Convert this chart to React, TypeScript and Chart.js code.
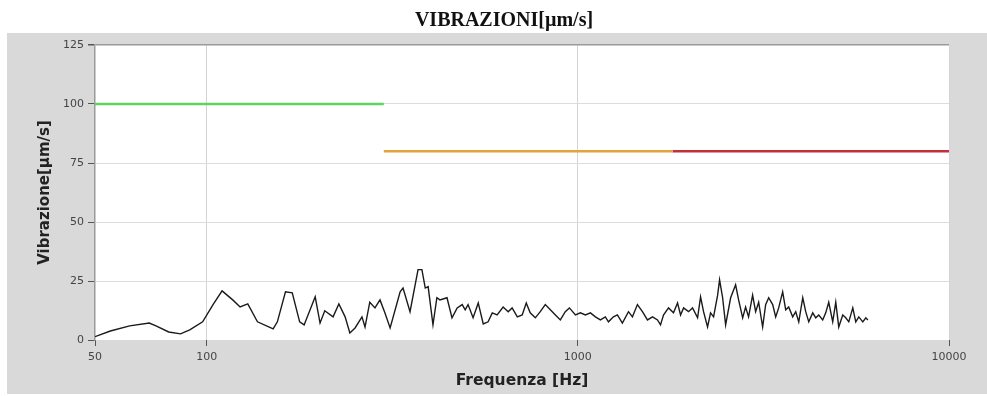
import React, { useEffect, useRef } from "react";
import { Chart, registerables } from "chart.js";

Chart.register(...registerables);

const TITLE = "VIBRAZIONI[µm/s]";
const X_TITLE = "Frequenza [Hz]";
const Y_TITLE = "Vibrazione[µm/s]";

const xTicks = [50, 100, 1000, 10000];
const yTicks = [0, 25, 50, 75, 100, 125];

// Limit lines: green 50-300 at 100, orange 300-1800 at 80, red 1800-10000 at 80
const limitFreqs = [50, 300, 1800, 10000];
const limitValues = [100, 80, 80];
const limitColors = ["#5fd35f", "#e2a43c", "#c2303c"];

// Measured spectrum
const freqs = [
  50, 55, 62, 70, 73, 79, 85, 90, 97.5, 104, 110, 117.5, 123, 129, 137, 151, 155, 163, 170, 178,
  183, 196, 202, 208, 219, 227, 236, 243, 251, 262, 267, 275, 284, 293, 302, 312, 332, 338, 353, 371,
  380, 388, 395, 407, 417, 425, 444, 458, 473, 488, 497, 506, 522, 539, 556, 573, 588, 606, 629, 649,
  665, 687, 708, 726, 744, 768, 792, 817, 843, 870, 897, 925, 949, 985, 1016, 1048, 1081, 1115, 1150, 1186,
  1209, 1247, 1278, 1318, 1369, 1403, 1447, 1493, 1540, 1589, 1639, 1670, 1701, 1755, 1810, 1856, 1891, 1927, 1987, 2037,
  2102, 2141, 2181, 2236, 2278, 2321, 2380, 2409, 2455, 2501, 2580, 2661, 2711, 2780, 2831, 2884, 2957, 3013, 3070, 3147,
  3206, 3267, 3349, 3412, 3476, 3563, 3631, 3699, 3792, 3864, 3937, 4036, 4111, 4189, 4294, 4375, 4457, 4568, 4654, 4742,
  4861, 4953, 5046, 5173, 5270, 5370, 5505, 5608, 5714, 5858, 5968, 6045,
];
const vibration = [
  1.4, 3.8, 6, 7.2, 6, 3.4, 2.6, 4.3, 7.7, 15, 20.8, 17, 14, 15.3, 7.7, 4.7, 7.7, 20.4, 20, 7.7,
  6.4, 18.3, 7.2, 12.4, 9.8, 15.3, 9.8, 3, 5.1, 9.8, 5.5, 16, 13.6, 17, 11.5, 5.1, 20.4, 22, 12, 29.8,
  29.8, 22, 22.6, 6.4, 17.9, 17, 17.9, 9.4, 13.6, 15, 12.8, 15, 9.4, 15.7, 6.8, 7.7, 11.5, 10.6, 14, 12,
  13.6, 9.8, 10.6, 15.7, 11.5, 9.4, 12, 15, 12.8, 10.6, 8.5, 12, 13.6, 10.6, 11.5, 10.6, 11.5, 9.8, 8.5, 9.8,
  7.7, 9.8, 10.6, 7.2, 12, 9.8, 15, 12, 8.5, 9.8, 8.5, 6.4, 10.6, 13.6, 11.5, 15.7, 10.6, 13.6, 12, 13.6,
  9.4, 18.3, 12, 5.5, 11.5, 9.8, 19, 25.5, 17.9, 6.4, 17.9, 23.4, 17, 9.4, 14, 9.8, 19, 12, 16, 5.5,
  15, 17.9, 15, 9.8, 13.6, 20.4, 12.8, 14, 9.8, 12, 7.7, 17.9, 12, 7.7, 11.5, 9.4, 10.6, 8.5, 11.5, 16,
  7.7, 16, 5.5, 10.6, 9.4, 7.7, 13.6, 7.7, 9.8, 7.7, 9.4, 8.5,
];

const FONT = "'DejaVu Sans', Verdana, sans-serif";

const panelPlugin = {
  id: "panel",
  beforeDraw(chart: any) {
    const { ctx, chartArea } = chart;
    ctx.save();
    ctx.fillStyle = "#ffffff";
    ctx.fillRect(0, 0, chart.width, chart.height);
    ctx.fillStyle = "#d9d9d9";
    ctx.fillRect(7, 33, chart.width - 7, 361);
    ctx.fillStyle = "#ffffff";
    ctx.fillRect(chartArea.left, chartArea.top, chartArea.right - chartArea.left, chartArea.bottom - chartArea.top);
    ctx.restore();
  },
  afterDraw(chart: any) {
    const { ctx } = chart;
    ctx.save();
    ctx.fillStyle = "#111111";
    ctx.font = "bold 20px 'Liberation Serif', 'Times New Roman', serif";
    ctx.textAlign = "center";
    ctx.textBaseline = "middle";
    ctx.fillText(TITLE, 504, 21);
    ctx.restore();
  },
};

export default function App() {
  const ref = useRef<HTMLCanvasElement>(null);

  useEffect(() => {
    const canvas = ref.current;
    if (!canvas) return;

    const limitSets = limitValues.map((v, i) => ({
      data: [
        { x: limitFreqs[i], y: v },
        { x: limitFreqs[i + 1], y: v },
      ],
      borderColor: limitColors[i],
      borderWidth: 2.6,
      pointRadius: 0,
      tension: 0,
    }));

    const chart = new Chart(canvas, {
      type: "line",
      data: {
        datasets: [
          ...limitSets,
          {
            data: freqs.map((f, i) => ({ x: f, y: vibration[i] })),
            borderColor: "#1a1a1a",
            borderWidth: 1.4,
            pointRadius: 0,
            tension: 0,
          },
        ],
      },
      options: {
        animation: false,
        responsive: false,
        maintainAspectRatio: false,
        layout: { padding: { left: 0, right: 38, top: 45, bottom: 0 } },
        plugins: {
          legend: { display: false },
          tooltip: { enabled: false },
          title: { display: false },
        },
        scales: {
          x: {
            type: "logarithmic",
            min: 50,
            max: 10000,
            afterBuildTicks: (scale: any) => {
              scale.ticks = xTicks.map((v) => ({ value: v }));
            },
            afterFit: (scale: any) => {
              scale.height = 56;
            },
            ticks: {
              autoSkip: false,
              maxRotation: 0,
              padding: 5,
              color: "#444",
              font: { family: FONT, size: 11 },
              callback: (v: any) => String(v),
            },
            grid: {
              color: (c: any) => (c.tick && c.tick.value === 50 ? "rgba(0,0,0,0)" : "#d4d4d4"),
              tickColor: "#555",
              tickLength: 6,
              lineWidth: 1,
            },
            border: { display: false },
            title: {
              display: true,
              text: X_TITLE,
              color: "#222",
              font: { family: FONT, size: 15.5, weight: "bold" },
              padding: { top: 0, bottom: 6 },
            },
          },
          y: {
            type: "linear",
            min: 0,
            max: 125,
            afterBuildTicks: (scale: any) => {
              scale.ticks = yTicks.map((v) => ({ value: v }));
            },
            afterFit: (scale: any) => {
              scale.width = 95;
            },
            ticks: {
              autoSkip: false,
              padding: 4,
              color: "#444",
              font: { family: FONT, size: 11 },
            },
            grid: {
              color: (c: any) => {
                const v = c.tick && c.tick.value;
                if (v === 125) return "#9a9a9a";
                if (v === 0) return "rgba(0,0,0,0)";
                return "#dcdcdc";
              },
              tickColor: "#555",
              tickLength: 7,
              lineWidth: (c: any) => (c.tick && c.tick.value === 125 ? 1.5 : 1),
            },
            border: { display: true, color: "#9a9a9a", width: 1.5 },
            title: {
              display: true,
              text: Y_TITLE,
              color: "#222",
              font: { family: FONT, size: 15, weight: "bold" },
              padding: { top: 36, bottom: 0 },
            },
          },
        },
      },
      plugins: [panelPlugin],
    });

    return () => chart.destroy();
  }, []);

  return (
    <div style={{ position: "absolute", left: 0, top: 0, width: 987, height: 396, background: "#fff" }}>
      <canvas ref={ref} width={987} height={396} style={{ display: "block" }} />
    </div>
  );
}
